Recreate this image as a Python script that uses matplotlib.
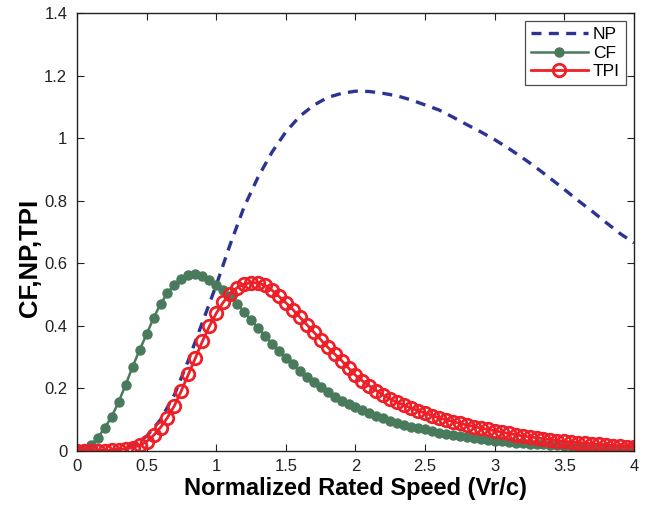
import matplotlib
matplotlib.use("Agg")
import matplotlib.pyplot as plt
import numpy as np

plt.rcParams['font.family'] = ['Liberation Sans', 'DejaVu Sans']

# x positions of the markers (0 to 4 in steps of 0.05)
speed = np.round(np.arange(0, 4.001, 0.05), 2)

# capacity factor
cf = [0.0, 0.005, 0.02, 0.042, 0.075, 0.11, 0.158, 0.212, 0.27, 0.323,
      0.373, 0.425, 0.47, 0.505, 0.532, 0.551, 0.562, 0.565, 0.559, 0.547,
      0.531, 0.513, 0.494, 0.47, 0.445, 0.418, 0.393, 0.368, 0.343, 0.32,
      0.298, 0.277, 0.256, 0.237, 0.219, 0.203, 0.188, 0.174, 0.161, 0.15,
      0.141, 0.131, 0.121, 0.112, 0.104, 0.097, 0.09, 0.084, 0.078, 0.073,
      0.069, 0.064, 0.059, 0.055, 0.051, 0.048, 0.045, 0.042, 0.039, 0.036,
      0.033, 0.031, 0.029, 0.027, 0.025, 0.023, 0.022, 0.021, 0.019, 0.018,
      0.016, 0.015, 0.014, 0.014, 0.013, 0.012, 0.012, 0.011, 0.011, 0.010,
      0.010]

# turbine performance index
tpi = [0.0, 0.0, 0.0, 0.0005, 0.001, 0.002, 0.004, 0.007, 0.011, 0.018,
       0.03, 0.05, 0.075, 0.107, 0.145, 0.193, 0.245, 0.297, 0.35, 0.398,
       0.44, 0.475, 0.503, 0.522, 0.533, 0.538, 0.537, 0.529, 0.514, 0.494,
       0.474, 0.452, 0.428, 0.404, 0.38, 0.356, 0.332, 0.31, 0.289, 0.265,
       0.242, 0.224, 0.208, 0.193, 0.178, 0.166, 0.155, 0.146, 0.137, 0.129,
       0.121, 0.113, 0.106, 0.1, 0.094, 0.088, 0.083, 0.078, 0.073, 0.069,
       0.065, 0.06, 0.056, 0.052, 0.048, 0.045, 0.042, 0.039, 0.036, 0.033,
       0.031, 0.029, 0.027, 0.025, 0.023, 0.021, 0.019, 0.017, 0.015, 0.014,
       0.012]

# normalized power (dashed line, read every 0.1)
np_speed = np.round(np.arange(0, 4.001, 0.1), 1)
np_power = [0.0, 0.0, 0.001, 0.004, 0.017, 0.047, 0.10, 0.18, 0.29, 0.41,
            0.53, 0.66, 0.78, 0.875, 0.955, 1.02, 1.07, 1.105, 1.13, 1.143,
            1.15, 1.149, 1.143, 1.135, 1.122, 1.106, 1.09, 1.067, 1.043, 1.02,
            0.995, 0.967, 0.937, 0.905, 0.871, 0.836, 0.80, 0.766, 0.73, 0.695,
            0.665]

xticks = [0, 0.5, 1, 1.5, 2, 2.5, 3, 3.5, 4]
xticklabels = ['0', '0.5', '1', '1.5', '2', '2.5', '3', '3.5', '4']
yticks = [0, 0.2, 0.4, 0.6, 0.8, 1.0, 1.2, 1.4]
yticklabels = ['0', '0.2', '0.4', '0.6', '0.8', '1', '1.2', '1.4']

fig = plt.figure(figsize=(6.48, 5.07), dpi=100)
ax = fig.add_axes([0.1188, 0.1105, 0.8596, 0.8639])

ax.plot(np_speed, np_power, linestyle=(0, (3.0, 2.2)), color='#2B3393',
        linewidth=2.4, label='NP')
ax.plot(speed, cf, color='#4A7A5C', linewidth=1.8, marker='o',
        markersize=6.5, markerfacecolor='#4A7A5C', markeredgecolor='#4A7A5C',
        label='CF')
ax.plot(speed, tpi, color='#EE1F27', linewidth=2.0, marker='o',
        markersize=9.0, markerfacecolor='none', markeredgewidth=2.0,
        markeredgecolor='#EE1F27', label='TPI')

ax.set_xlim(0, 4)
ax.set_ylim(0, 1.4)
ax.set_xticks(xticks)
ax.set_xticklabels(xticklabels)
ax.set_yticks(yticks)
ax.set_yticklabels(yticklabels)
ax.tick_params(direction='in', top=True, right=True, length=5, width=0.8,
               labelsize=12, colors='#222222')
ax.tick_params(axis='x', pad=6)
ax.tick_params(axis='y', pad=7)
for spine in ax.spines.values():
    spine.set_linewidth(1.0)
    spine.set_color('#222222')

ax.set_xlabel('Normalized Rated Speed (Vr/c)', fontsize=17, fontweight='bold', labelpad=2)
ax.set_ylabel('CF,NP,TPI', fontsize=18.5, fontweight='bold')
ax.yaxis.set_label_coords(-0.062, 0.44)

leg = ax.legend(loc='upper right', fontsize=12.5, handlelength=3.3, frameon=True,
                fancybox=False, edgecolor='#222222', borderpad=0.35,
                labelspacing=0.2, handletextpad=0.3, borderaxespad=0.45)
leg.get_frame().set_linewidth(0.9)

fig.savefig('out.png', dpi=100)
